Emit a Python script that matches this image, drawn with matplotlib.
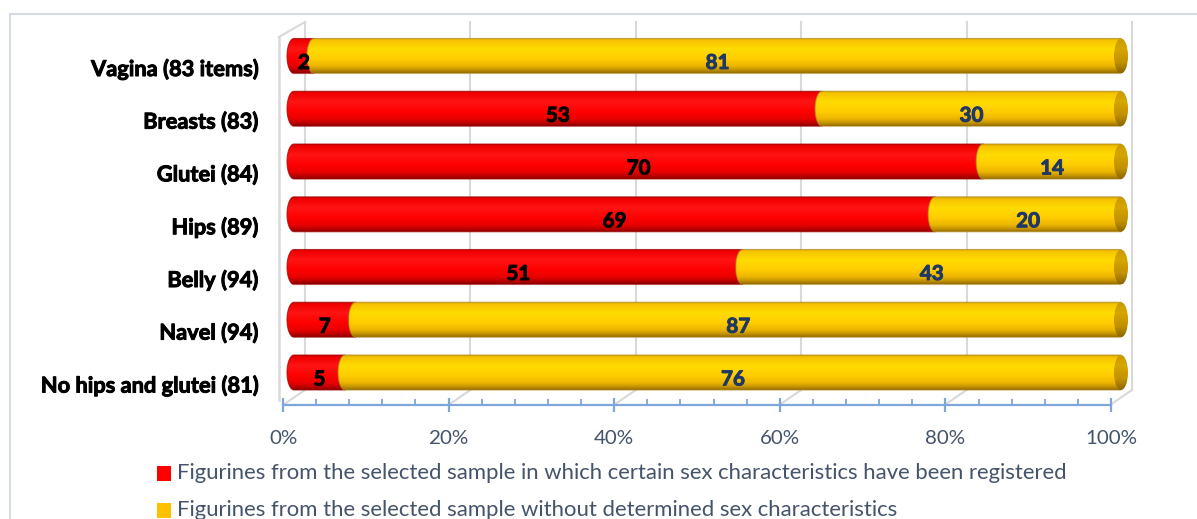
import numpy as np
import matplotlib
matplotlib.use("Agg")
import matplotlib.pyplot as plt
import matplotlib.patheffects as pe
from matplotlib.path import Path
from matplotlib.patches import PathPatch, Ellipse, Rectangle
from matplotlib.colors import LinearSegmentedColormap
from matplotlib.ticker import MultipleLocator
from matplotlib.transforms import ScaledTranslation

# ---------------- data ----------------
categories = ["Vagina (83 items)", "Breasts (83)", "Glutei (84)", "Hips (89)",
              "Belly (94)", "Navel (94)", "No hips and glutei (81)"]
registered = [2, 53, 70, 69, 51, 7, 5]
undetermined = [81, 30, 14, 20, 43, 87, 76]
series_names = [
    "Figurines from the selected sample in which certain sex characteristics have been registered",
    "Figurines from the selected sample without determined sex characteristics",
]
x_ticks = [0, 20, 40, 60, 80, 100]
x_ticklabels = ["0%", "20%", "40%", "60%", "80%", "100%"]

# ---------------- style ----------------
W, H = 1197, 519
FONT = "Lato"
TXT = "#44546A"
WALL = "#D9D9D9"
AXBLUE = "#7EA6D9"
RED = "#FF0000"
GOLD = "#FFC000"
HEAVY = "bold"

fig = plt.figure(figsize=(W / 100, H / 100), dpi=100)
renderer = fig.canvas.get_renderer()


def fit_size(text, target, weight="normal", base=20):
    t = fig.text(0, 0, text, fontsize=base, family=FONT, weight=weight)
    w = t.get_window_extent(renderer=renderer).width
    t.remove()
    return base * target / w


def rect_px(x0, x1, y0, y1):
    return [x0 / W, 1 - y1 / H, (x1 - x0) / W, (y1 - y0) / H]


def thick(color):
    return [pe.withStroke(linewidth=0.7, foreground=color)]


cat_fs = fit_size(categories[-1], 218, HEAVY)
val_fs = fit_size("70", 24, HEAVY)
tick_fs = fit_size("100%", 52)
leg_fs = fit_size(series_names[0], 896)

# outer chart frame
fig.patches.append(Rectangle((10 / W, -0.2), 1.2, 1.2 - 14 / H, transform=fig.transFigure,
                             fill=False, edgecolor="#D6DCE4", lw=1.5))

# ---------------- bar axes (mid-depth plane) ----------------
PX0, PX100 = 294.0, 1121.0
sx = (PX100 - PX0) / 100.0
Y0, DY = 56.0, 52.75
ax = fig.add_axes(rect_px(PX0 - 3 * sx, PX100 + 3 * sx, Y0 - DY, Y0 + 7 * DY))
ax.set_xlim(-3, 103)
ax.set_ylim(7, -1)
ax.set_frame_on(False)
ax.patch.set_alpha(0)
ax.set_xticks([])
ax.set_yticks(range(len(categories)))
ax.set_yticklabels(categories, fontsize=cat_fs, fontweight=HEAVY, family=FONT, color="black")
ax.tick_params(axis="y", length=0, pad=8)
shift = ScaledTranslation(0, -11 / 100, fig.dpi_scale_trans)
for lab in ax.get_yticklabels():
    lab.set_transform(lab.get_transform() + shift)
    lab.set_path_effects(thick("black"))

# 3D walls (front / back offsets in data units)
FO = -11 / sx
BO = 11 / sx
yf_floor = (405 - Y0) / DY
yb_floor = (390 - Y0) / DY
yb_top = (22 - Y0) / DY
yf_top = (37 - Y0) / DY
for v in x_ticks:
    ax.plot([v + BO, v + BO], [yb_floor, yb_top], color=WALL, lw=1.5, zorder=0.5, clip_on=False)
    ax.plot([v + FO, v + BO], [yf_floor, yb_floor], color=WALL, lw=1.5, zorder=0.5, clip_on=False)
ax.plot([FO - 0.5, FO - 0.5], [yf_floor - 0.1, yf_top], color=WALL, lw=1.8, zorder=0.5, clip_on=False)
ax.plot([FO - 0.5, BO], [yf_top, yb_top], color=WALL, lw=1.5, zorder=0.5, clip_on=False)

# cylinder colormaps (top -> bottom)
red_cmap = LinearSegmentedColormap.from_list("r", [
    (0.0, "#c80000"), (0.07, "#f20000"), (0.3, "#ff1414"), (0.6, "#ff0000"),
    (0.8, "#e80000"), (0.92, "#b80000"), (1.0, "#8a0000")])
gold_cmap = LinearSegmentedColormap.from_list("g", [
    (0.0, "#d8a600"), (0.07, "#f6c400"), (0.3, "#ffdc00"), (0.6, "#ffcc00"),
    (0.8, "#ebb400"), (0.92, "#bf8f00"), (1.0, "#8f6a00")])
cap_cmap = LinearSegmentedColormap.from_list("c", [
    (0.0, "#c79a00"), (0.3, "#d6a600"), (0.7, "#c09000"), (1.0, "#8a6600")])
grad = np.linspace(0, 1, 256).reshape(-1, 1)

hh = 17.5 / DY      # half height (data y)
aa = 7.0 / sx       # ellipse semi-axis (data x)


def segment_path(x0, x1, yc):
    xs = [x0, x1, x1, x0]
    ys = [yc - hh, yc - hh, yc + hh, yc + hh]
    th = np.linspace(-np.pi / 2, np.pi / 2, 40)
    ex = x0 - aa * np.cos(th)
    ey = yc - hh * np.sin(th)
    verts = list(zip(xs, ys)) + list(zip(ex, ey)) + [(x0, yc - hh)]
    return Path(verts, closed=True)


def draw_segment(x0, x1, yc, cmap, z, rim, last=False):
    path = segment_path(x0, x1, yc)
    clip = PathPatch(path, transform=ax.transData, facecolor="none", edgecolor="none")
    ax.add_patch(clip)
    im = ax.imshow(grad, extent=(x0 - aa, x1 + 0.01, yc + hh, yc - hh), aspect="auto",
                   cmap=cmap, interpolation="bilinear", zorder=z)
    im.set_clip_path(clip)
    outline = PathPatch(path, transform=ax.transData, facecolor="none",
                        edgecolor=rim, lw=0.8, alpha=0.7, zorder=z + 0.01)
    ax.add_patch(outline)
    if last:
        el = Ellipse((x1, yc), 2 * aa, 2 * hh, transform=ax.transData,
                     facecolor="none", edgecolor="none")
        ax.add_patch(el)
        imc = ax.imshow(grad, extent=(x1 - aa, x1 + aa, yc + hh, yc - hh), aspect="auto",
                        cmap=cap_cmap, interpolation="bilinear", zorder=z + 0.02)
        imc.set_clip_path(el)


for i, (r, u) in enumerate(zip(registered, undetermined)):
    tot = r + u
    pr = 100.0 * r / tot
    draw_segment(0, pr, i, red_cmap, 2 + i * 0.1, "#a00000")
    draw_segment(pr, 100, i, gold_cmap, 2.05 + i * 0.1, "#b38a1e", last=True)
    yl = i + 7 / DY
    ax.text(pr / 2, yl, str(r), ha="center", va="center", fontsize=val_fs,
            fontweight=HEAVY, family=FONT, color="black", zorder=20,
            path_effects=thick("black"))
    ax.text(pr + (100 - pr) / 2, yl, str(u), ha="center", va="center", fontsize=val_fs,
            fontweight=HEAVY, family=FONT, color="#1F3864", zorder=20,
            path_effects=thick("#1F3864"))

ax.set_xlim(-3, 103)
ax.set_ylim(7, -1)

# ---------------- front value axis ----------------
ax2 = fig.add_axes(rect_px(283, 1111, 395, 405))
ax2.set_xlim(0, 100)
ax2.patch.set_alpha(0)
for s in ("top", "left", "right"):
    ax2.spines[s].set_visible(False)
ax2.spines["bottom"].set_color(AXBLUE)
ax2.spines["bottom"].set_linewidth(1.6)
ax2.set_yticks([])
ax2.set_xticks(x_ticks)
ax2.set_xticklabels(x_ticklabels, fontsize=tick_fs, family=FONT, color=TXT)
ax2.xaxis.set_minor_locator(MultipleLocator(4))
ax2.tick_params(axis="x", which="major", direction="inout", length=10, width=1.6,
                color=AXBLUE, pad=13)
ax2.tick_params(axis="x", which="minor", direction="in", length=4, width=1.3, color=AXBLUE)

# ---------------- legend ----------------
for k, (name, col) in enumerate(zip(series_names, [RED, GOLD])):
    yc = [473, 510][k]
    fig.patches.append(Rectangle((157 / W, 1 - (yc + 7.5) / H), 14 / W, 15 / H,
                                 transform=fig.transFigure, facecolor=col, edgecolor="none"))
    fig.text(177 / W, 1 - yc / H, name, fontsize=leg_fs, family=FONT, color=TXT,
             ha="left", va="center")

fig.savefig("out.png", dpi=100)
